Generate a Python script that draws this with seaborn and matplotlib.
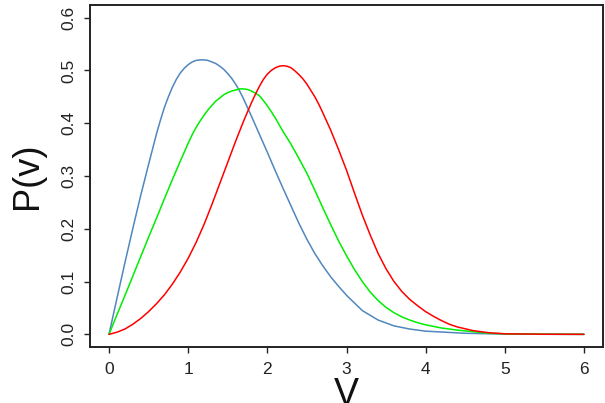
import numpy as np
import pandas as pd
import matplotlib
matplotlib.use("Agg")
import matplotlib.pyplot as plt
import seaborn as sns

# ---- data ----
v_blue = [0.0, 0.1, 0.2, 0.3, 0.4, 0.5, 0.6, 0.65, 0.7, 0.75, 0.8, 0.85, 0.9, 0.95,
          1.0, 1.05, 1.1, 1.15, 1.2, 1.25, 1.3, 1.35, 1.4, 1.45, 1.5, 1.55, 1.6,
          1.65, 1.7, 1.8, 1.9, 2.0, 2.1, 2.2, 2.3, 2.4, 2.5, 2.6, 2.7, 2.8, 2.9,
          3.0, 3.2, 3.4, 3.6, 3.8, 4.0, 4.5, 5.0, 5.5, 6.0]
p_blue = [0.000, 0.068, 0.135, 0.200, 0.263, 0.322, 0.380, 0.406, 0.430, 0.450,
          0.468, 0.483, 0.495, 0.504, 0.511, 0.516, 0.519, 0.520, 0.520, 0.519,
          0.516, 0.513, 0.508, 0.502, 0.494, 0.485, 0.474, 0.461, 0.446, 0.413,
          0.379, 0.345, 0.310, 0.276, 0.243, 0.210, 0.180, 0.153, 0.130, 0.109,
          0.091, 0.074, 0.045, 0.027, 0.016, 0.010, 0.006, 0.002, 0.0005, 0.0001,
          0.0]

v_green = [0.0, 0.1, 0.2, 0.3, 0.4, 0.5, 0.6, 0.7, 0.8, 0.9, 1.0, 1.05, 1.1, 1.15,
           1.2, 1.25, 1.3, 1.35, 1.4, 1.45, 1.5, 1.55, 1.6, 1.65, 1.7, 1.75, 1.8,
           1.85, 1.9, 1.95, 2.0, 2.05, 2.1, 2.2, 2.3, 2.4, 2.5, 2.6, 2.7, 2.8, 2.9,
           3.0, 3.1, 3.2, 3.3, 3.4, 3.5, 3.6, 3.7, 3.8, 3.9, 4.0, 4.2, 4.4, 4.6,
           4.8, 5.0, 5.5, 6.0]
p_green = [0.000, 0.037, 0.073, 0.110, 0.147, 0.184, 0.220, 0.257, 0.293, 0.328,
           0.362, 0.378, 0.392, 0.404, 0.415, 0.425, 0.434, 0.442, 0.448, 0.454,
           0.458, 0.461, 0.463, 0.465, 0.465, 0.464, 0.461, 0.457, 0.452, 0.443,
           0.433, 0.422, 0.410, 0.384, 0.360, 0.333, 0.305, 0.273, 0.240, 0.208,
           0.177, 0.149, 0.123, 0.100, 0.080, 0.064, 0.051, 0.041, 0.033, 0.027,
           0.022, 0.018, 0.012, 0.008, 0.005, 0.002, 0.001, 0.0002, 0.0]

v_red = [0.0, 0.1, 0.2, 0.3, 0.4, 0.5, 0.6, 0.7, 0.8, 0.9, 1.0, 1.1, 1.2, 1.3, 1.4,
         1.5, 1.6, 1.7, 1.8, 1.85, 1.9, 1.95, 2.0, 2.05, 2.1, 2.15, 2.2, 2.25, 2.3,
         2.35, 2.4, 2.45, 2.5, 2.55, 2.6, 2.65, 2.7, 2.8, 2.9, 3.0, 3.1, 3.2, 3.3,
         3.4, 3.5, 3.6, 3.7, 3.8, 3.9, 4.0, 4.1, 4.2, 4.3, 4.4, 4.6, 4.8, 5.0,
         5.5, 6.0]
p_red = [0.000, 0.004, 0.010, 0.019, 0.030, 0.043, 0.058, 0.075, 0.095, 0.118,
         0.144, 0.174, 0.208, 0.246, 0.286, 0.326, 0.366, 0.404, 0.439, 0.455,
         0.470, 0.483, 0.493, 0.500, 0.505, 0.508, 0.509, 0.508, 0.505, 0.499,
         0.492, 0.484, 0.474, 0.462, 0.450, 0.436, 0.420, 0.387, 0.350, 0.311,
         0.268, 0.226, 0.188, 0.153, 0.124, 0.100, 0.081, 0.066, 0.054, 0.043,
         0.034, 0.026, 0.019, 0.014, 0.007, 0.003, 0.001, 0.0002, 0.0]

series_names = ["blue", "green", "red"]
series_colors = ["#5087BE", "#00EE00", "#FF0000"]
x_ticks = [0, 1, 2, 3, 4, 5, 6]
y_ticks = [0.0, 0.1, 0.2, 0.3, 0.4, 0.5, 0.6]
y_tick_labels = ["0.0", "0.1", "0.2", "0.3", "0.4", "0.5", "0.6"]
x_label = "V"
y_label = "P(v)"

df = pd.concat([
    pd.DataFrame({"v": v_blue, "P": p_blue, "s": "blue"}),
    pd.DataFrame({"v": v_green, "P": p_green, "s": "green"}),
    pd.DataFrame({"v": v_red, "P": p_red, "s": "red"}),
], ignore_index=True)

sns.set_theme(style="ticks")
plt.rcParams["font.family"] = ["Liberation Sans", "DejaVu Sans"]

fig = plt.figure(figsize=(6.05, 4.03), dpi=100)
ax = fig.add_axes([90 / 605, 1 - 347 / 403, (603 - 90) / 605, (347 - 5) / 403])

sns.lineplot(data=df, x="v", y="P", hue="s", hue_order=series_names,
             palette=dict(zip(series_names, series_colors)), ax=ax,
             linewidth=1.1, legend=False, sort=False, estimator=None)

ax.set_xlim(-0.24, 6.24)
ax.set_ylim(-0.024, 0.624)
ax.set_xticks(x_ticks)
ax.set_xticklabels([str(t) for t in x_ticks])
ax.set_yticks(y_ticks)
ax.set_yticklabels(y_tick_labels, rotation=90, va="center")

for sp in ax.spines.values():
    sp.set_visible(True)
    sp.set_color("#222222")
    sp.set_linewidth(1.4)

ax.tick_params(axis="both", direction="out", length=4.5, width=1.0,
               color="#222222", labelsize=12.5, labelcolor="#222222")
ax.tick_params(axis="x", pad=6)
ax.tick_params(axis="y", pad=5)

ax.set_xlabel(x_label, fontsize=27, color="#111111", labelpad=0)
ax.set_ylabel(y_label, fontsize=26, color="#111111", labelpad=12)

fig.savefig("out.png", dpi=100)
